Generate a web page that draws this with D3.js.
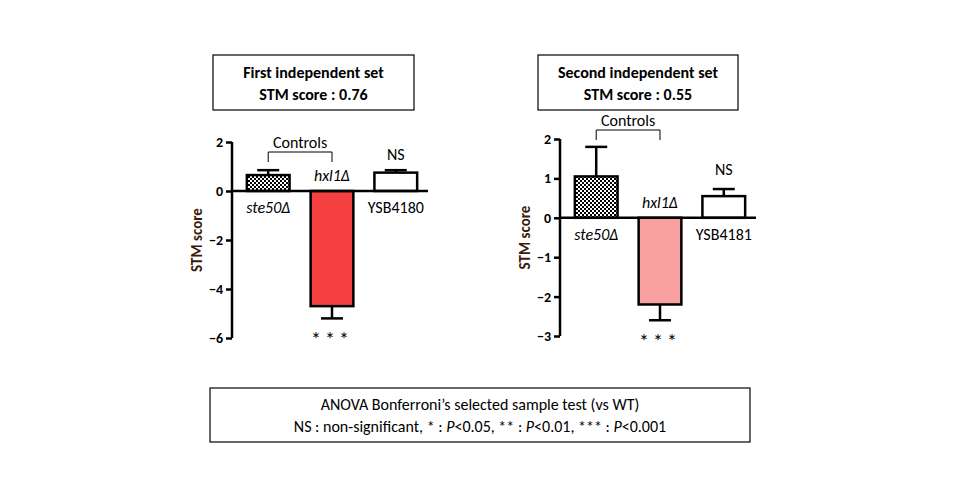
<!DOCTYPE html><html><head><meta charset="utf-8"><script src="https://d3js.org/d3.v7.min.js"></script>
<style>body{margin:0;background:#fff}text{font-family:Calibri,Carlito,"Open Sans",Arial,sans-serif}</style></head><body><svg id="c" width="960" height="500"></svg>
<script>
const categories1=["ste50Δ","hxl1Δ","YSB4180"];
const values1=[0.65,-4.7,0.75];
const errors1=[0.2,0.5,0.1];
const ticks1=[2,0,-2,-4,-6];
const categories2=["ste50Δ","hxl1Δ","YSB4181"];
const values2=[1.05,-2.2,0.55];
const errors2=[0.75,0.4,0.18];
const ticks2=[2,1,0,-1,-2,-3];
const svg=d3.select("#c");
const defs=svg.append("defs");
const p=defs.append("pattern").attr("id","chk").attr("width",4).attr("height",4).attr("patternUnits","userSpaceOnUse");
p.append("rect").attr("width",4).attr("height",4).attr("fill","#fff");
p.append("rect").attr("width",2).attr("height",2).attr("fill","#000");
p.append("rect").attr("x",2).attr("y",2).attr("width",2).attr("height",2).attr("fill","#000");

function box(x,y,w,h,lines,bold){
  svg.append("rect").attr("x",x).attr("y",y).attr("width",w).attr("height",h).attr("fill","#fff").attr("stroke","#000").attr("stroke-width",1.2);
  lines.forEach((l,i)=>{const t=svg.append("text").attr("x",x+w/2).attr("y",y+h/2+(i-(lines.length-1)/2)*22+6).attr("text-anchor","middle").attr("font-size",16).attr("font-weight",bold?"bold":"normal");
    l.forEach(s=>t.append("tspan").attr("font-style",s[1]?"italic":"normal").text(s[0]));});
}
box(213,55,201,55,[[["First independent set"]],[["STM score : 0.76"]]],true);
box(538,55,200,55,[[["Second independent set"]],[["STM score : 0.55"]]],true);
box(210,388,540,54,[[["ANOVA Bonferroni’s selected sample test (vs WT)"]],[["NS : non-significant, * : "],["P",1],["<0.05, ** : "],["P",1],["<0.01, *** : "],["P",1],["<0.001"]]],false);

function chart(ax,y0,y1,dom,ticks,cats,vals,errs,fills,opt){
  const y=d3.scaleLinear().domain(dom).range([y0,y1]);
  const x=d3.scaleBand().domain(cats).range([ax+4,ax+4+3*64]).paddingInner(0.33).paddingOuter(0.17);
  const g=svg.append("g");
  g.append("g").attr("transform",`translate(${ax},0)`).call(d3.axisLeft(y).tickValues(ticks).tickSize(6).tickFormat(d3.format("d")))
   .call(s=>{s.selectAll("path,line").attr("stroke","#000").attr("stroke-width",2.5);s.select(".domain").attr("d",`M0,${y(dom[0])}V${y(dom[1])}`);s.selectAll("text").attr("font-size",14).attr("font-weight","bold").attr("font-family","Arial,Liberation Sans,sans-serif").attr("fill","#000");});
  g.append("text").attr("transform",`translate(${ax-30},${(y(dom[0])+y(dom[1]))/2}) rotate(-90)`).attr("text-anchor","middle").attr("font-size",15).attr("font-weight","bold").attr("font-family","Arial,Liberation Sans,sans-serif").attr("fill","#3b1a08").text("STM score");
  cats.forEach((c,i)=>{
    const v=vals[i],bx=x(c),bw=x.bandwidth(),cx=bx+bw/2;
    const e=v>=0?v+errs[i]:v-errs[i];
    g.append("line").attr("x1",cx).attr("x2",cx).attr("y1",y(v)).attr("y2",y(e)).attr("stroke","#000").attr("stroke-width",2.5);
    g.append("line").attr("x1",cx-11).attr("x2",cx+11).attr("y1",y(e)).attr("y2",y(e)).attr("stroke","#000").attr("stroke-width",2.5);
    g.append("rect").attr("x",bx).attr("width",bw).attr("y",y(Math.max(v,0))).attr("height",Math.abs(y(v)-y(0))).attr("fill",fills[i]).attr("stroke","#000").attr("stroke-width",2.5);
    const ly=v>=0?y(0)+22:y(0)-10;
    g.append("text").attr("x",cx).attr("y",ly).attr("text-anchor","middle").attr("font-size",16).attr("font-style",i<2?"italic":"normal").text(c);
  });
  g.append("line").attr("x1",ax).attr("x2",ax+4+3*64).attr("y1",y(0)).attr("y2",y(0)).attr("stroke","#000").attr("stroke-width",2.5);
  const c0=x(cats[0])+x.bandwidth()/2,c1=x(cats[1])+x.bandwidth()/2,c2=x(cats[2])+x.bandwidth()/2;
  const by=opt.brk;
  g.append("path").attr("d",`M${c0},${by+10}V${by}H${c1}V${by+10}`).attr("fill","none").attr("stroke","#000").attr("stroke-width",1);
  g.append("text").attr("x",(c0+c1)/2).attr("y",by-4).attr("text-anchor","middle").attr("font-size",16).text("Controls");
  g.append("text").attr("x",c2).attr("y",opt.ns).attr("text-anchor","middle").attr("font-size",16).text("NS");
  g.append("text").attr("x",c1).attr("y",y(vals[1]-errs[1])+28).attr("text-anchor","middle").attr("font-size",20).attr("letter-spacing",4).text("***");
}
chart(232,142,338,[2,-6],ticks1,categories1,values1,errors1,["url(#chk)","#f44040","#fff"],{brk:152,ns:160});
chart(560,139,336,[2,-3],ticks2,categories2,values2,errors2,["url(#chk)","#f9a0a0","#fff"],{brk:130,ns:175});
</script></body></html>
